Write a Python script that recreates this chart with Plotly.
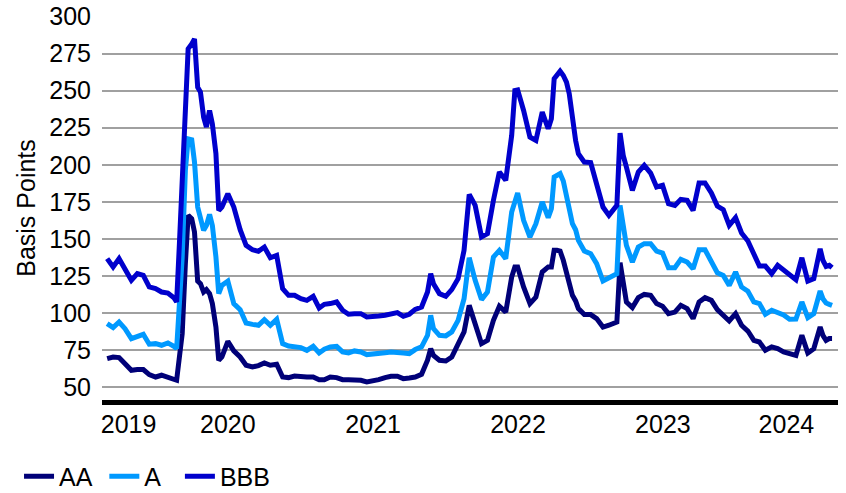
import plotly.graph_objects as go

dates = [
    "2019-09-01", "2019-09-16", "2019-10-01", "2019-10-16", "2019-11-01", "2019-11-16", "2019-12-01", "2019-12-16",
    "2020-01-01", "2020-01-16", "2020-02-01", "2020-02-16", "2020-02-23", "2020-03-01", "2020-03-08", "2020-03-16",
    "2020-03-19", "2020-03-23", "2020-04-01", "2020-04-08", "2020-04-16", "2020-04-23", "2020-05-01", "2020-05-08",
    "2020-05-16", "2020-05-23", "2020-06-01", "2020-06-08", "2020-06-16",
    "2020-07-01", "2020-07-16", "2020-08-01", "2020-08-16", "2020-09-01", "2020-09-16", "2020-10-01", "2020-10-16",
    "2020-11-01", "2020-11-16", "2020-12-01", "2020-12-16",
    "2021-01-01", "2021-01-16", "2021-02-01", "2021-02-16", "2021-03-01", "2021-03-16", "2021-04-01", "2021-04-16",
    "2021-05-01", "2021-05-16", "2021-06-01", "2021-06-16", "2021-07-01", "2021-07-16", "2021-08-01", "2021-08-16",
    "2021-09-01", "2021-09-16", "2021-10-01", "2021-10-16", "2021-11-01", "2021-11-16", "2021-11-24", "2021-12-01",
    "2021-12-16",
    "2022-01-01", "2022-01-16", "2022-02-01", "2022-02-16",
    "2022-03-01", "2022-03-16", "2022-04-01", "2022-04-16", "2022-05-01", "2022-05-16", "2022-06-01", "2022-06-16",
    "2022-06-24", "2022-07-01", "2022-07-16", "2022-08-01", "2022-08-16", "2022-09-01", "2022-09-16", "2022-09-24",
    "2022-10-01", "2022-10-08", "2022-10-16", "2022-10-24", "2022-11-01", "2022-11-08", "2022-11-16", "2022-11-24",
    "2022-12-01", "2022-12-16",
    "2023-01-01", "2023-01-16", "2023-02-01", "2023-02-16", "2023-03-01", "2023-03-08", "2023-03-16", "2023-03-24",
    "2023-04-01", "2023-04-16", "2023-05-01", "2023-05-16", "2023-06-01", "2023-06-16", "2023-07-01", "2023-07-16",
    "2023-08-01", "2023-08-16", "2023-09-01", "2023-09-16", "2023-10-01", "2023-10-16", "2023-11-01",
    "2023-11-16", "2023-12-01", "2023-12-16", "2024-01-01", "2024-01-16", "2024-02-01", "2024-02-16", "2024-03-01",
    "2024-03-16", "2024-04-01", "2024-04-16", "2024-05-01", "2024-05-16", "2024-06-01", "2024-06-16", "2024-07-01",
    "2024-07-16", "2024-08-01", "2024-08-08", "2024-08-16", "2024-08-24", "2024-08-31",
]

aa = [
    69.3, 70.4, 70.0, 65.9, 61.4, 61.9, 61.9, 58.5,
    56.9, 58.1, 56.9, 55.1, 54.7, 70.4, 86.1, 133.3, 151.3, 165.9, 163.6, 154.6, 121.6, 119.8, 114.2, 115.8,
    113.1, 106.4, 90.6, 68.2, 70.4,
    81.0, 74.5, 70.4, 64.8, 63.7, 64.6, 66.4, 64.8, 65.5, 56.9, 56.5, 57.6,
    56.9, 56.9, 56.9, 55.1, 55.1, 56.9, 56.5, 55.1,
    55.1, 55.1, 54.7, 53.6, 54.2, 55.1, 56.5, 57.4, 57.4, 55.8, 56.3, 56.9, 58.7, 68.2, 76.0, 71.5, 68.2,
    67.7, 70.4, 78.3, 87.3,
    105.2, 91.8, 79.4, 81.6, 95.1, 104.6, 100.7, 124.3, 131.1, 131.1, 117.6, 106.4, 110.8, 127.7, 131.1, 131.1,
    142.3, 142.3, 141.8, 135.6, 127.7, 117.6, 112.0, 108.2, 103.0, 99.0,
    99.0, 96.3, 90.6, 91.8, 92.9, 94.0, 134.0, 118.7, 107.5, 103.7, 110.4, 112.6, 112.0, 106.4, 104.6, 99.6,
    100.7, 105.2, 103.0, 96.3, 107.5, 110.4, 108.6,
    102.3, 98.5, 94.7, 99.6, 91.8, 87.9, 81.6, 80.5, 74.9, 77.2, 76.0, 73.8, 72.7, 71.5, 85.0, 73.1,
    76.0, 90.6, 85.0, 81.6, 82.8, 82.8,
]

a = [
    92.9, 90.2, 94.0, 89.5, 82.8, 83.9, 85.7, 79.0,
    79.4, 78.3, 79.9, 77.6, 76.0, 106.4, 137.8, 196.2, 209.7, 217.5, 216.9, 201.8, 171.5, 164.7, 155.8, 159.1,
    166.5, 159.1, 137.8, 113.1, 118.7,
    121.6, 106.4, 102.3, 93.3, 92.4, 91.8, 95.6, 91.8, 95.8, 79.4, 77.8, 77.2,
    76.7, 74.9, 77.6, 73.1, 75.6, 77.2, 77.6, 73.8,
    73.1, 74.5, 73.8, 72.0, 72.7, 72.7, 73.3, 73.8, 73.8, 73.1, 72.7, 75.4, 77.2, 85.0, 98.5, 89.5, 85.0,
    84.6, 87.3, 95.1, 109.7,
    137.3, 122.1, 109.1, 114.2, 137.8, 142.3, 136.7, 168.1, 176.0, 180.9, 162.5, 151.3, 160.3, 174.9, 164.3, 170.4,
    191.7, 192.8, 194.0, 189.0, 180.5, 170.4, 160.3, 156.2, 149.0, 141.8,
    140.0, 133.3, 121.6, 123.9, 125.9, 126.6, 172.6, 156.9, 145.7, 134.4, 144.5, 146.8, 146.8, 141.8, 140.5, 130.6,
    130.6, 136.2, 134.4, 129.9, 142.7, 142.7, 135.0,
    127.2, 125.4, 118.7, 127.7, 117.6, 114.7, 107.5, 106.4, 99.2, 101.9, 100.7, 98.7, 95.8, 96.0, 107.5, 96.9,
    99.6, 114.9, 109.7, 106.8, 105.9, 105.2,
]

bbb = [
    136.7, 131.1, 136.7, 128.8, 122.1, 126.6, 125.4, 117.6,
    116.5, 114.2, 113.5, 110.4, 107.5, 146.8, 187.2, 234.4, 254.6, 278.2, 281.5, 284.9, 252.3, 249.0, 232.1, 225.4,
    236.6, 227.6, 207.4, 169.2, 171.5,
    180.5, 171.5, 156.2, 145.7, 142.7, 141.6, 144.5, 137.3, 138.9, 116.5, 112.0, 112.0,
    109.7, 108.6, 111.3, 103.4, 105.9, 106.4, 107.5, 101.9,
    99.2, 99.6, 99.6, 97.4, 97.4, 98.0, 98.5, 99.6, 100.3, 97.8, 99.2, 102.5, 104.1, 114.2, 126.6, 119.8, 113.1,
    111.3, 115.8, 123.2, 142.3,
    180.0, 172.6, 151.3, 153.5, 176.0, 195.1, 189.5, 219.8, 250.1, 250.5, 236.6, 218.7, 216.4, 235.5, 224.3, 231.0,
    258.0, 260.2, 263.1, 260.2, 255.7, 247.9, 229.9, 216.4, 207.4, 201.8,
    201.5, 187.2, 171.5, 165.9, 171.0, 172.6, 221.3, 206.3, 198.4, 182.7, 195.1, 199.6, 194.4, 185.0, 186.1, 173.7,
    172.6, 176.7, 176.0, 169.2, 187.7, 187.7, 181.0,
    172.2, 169.7, 159.1, 164.3, 154.0, 148.6, 140.0, 131.7, 131.7, 126.6, 132.2, 129.3, 125.9, 122.5, 137.3, 121.6,
    123.2, 143.4, 135.6, 131.5, 132.2, 130.6,
]

series_names = ["AA", "A", "BBB"]
series_colors = ["#000078", "#0099FF", "#0000CC"]
legend_pad = [1, 2, 0]  # non-breaking spaces after each legend name (spacing only)

year_labels = ["2019", "2020", "2021", "2022", "2023", "2024"]
year_label_dates = ["2019-10-25", "2020-07-01", "2021-07-02", "2022-07-02", "2023-07-02", "2024-05-08"]

y_ticks = [50, 75, 100, 125, 150, 175, 200, 225, 250, 275, 300]

FONT = "Liberation Sans, Arial, sans-serif"
NBSP = "\u00a0"

fig = go.Figure()
for name, vals, col, pad in zip(series_names, [aa, a, bbb], series_colors, legend_pad):
    fig.add_trace(go.Scatter(x=dates, y=vals, name=name + NBSP * pad, mode="lines",
                             line=dict(color=col, width=5)))

fig.update_layout(
    width=846, height=493,
    margin=dict(l=102, r=8, t=16, b=93, autoexpand=False),
    paper_bgcolor="white", plot_bgcolor="white",
    font=dict(family=FONT, size=25, color="#000000"),
    showlegend=True,
    legend=dict(orientation="h", xref="container", yref="container",
                x=0.0225, xanchor="left", y=0.0335, yanchor="middle",
                font=dict(size=25), itemwidth=30, tracegroupgap=0,
                bgcolor="rgba(0,0,0,0)"),
    xaxis=dict(type="date", range=["2019-08-19", "2024-09-15"], automargin=False,
               tickmode="array", tickvals=year_label_dates, ticktext=year_labels,
               showgrid=False, zeroline=False,
               showline=True, linecolor="#000000", linewidth=5,
               ticks="", ticklabelstandoff=-2, ticklabeloverflow="allow"),
    yaxis=dict(range=[41.4, 300.3], tickmode="array", tickvals=y_ticks, automargin=False,
               showgrid=True, gridcolor="#A0A0A0", gridwidth=2,
               zeroline=False, showline=False, ticks="",
               ticklabelstandoff=10, ticklabeloverflow="allow",
               title=dict(text="Basis Points", standoff=6, font=dict(size=25))),
)

# remove the browser's default 8px page margin so the figure fills the window exactly
fig.write_html("out.html",
               config={"displayModeBar": False},
               post_script="document.body.style.margin='0';document.body.style.overflow='hidden';")
